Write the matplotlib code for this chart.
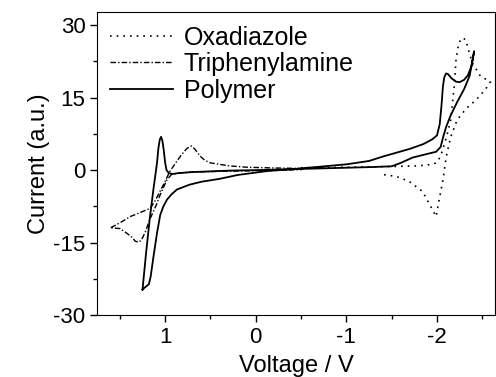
"""
Voltametria ciclica: Oxadiazole / Triphenylamine / Polymer.
Eje X invertido (potencial de 1.7 V a -2.6 V).
"""

import matplotlib
matplotlib.use("Agg")
import matplotlib.pyplot as plt
from matplotlib.ticker import MultipleLocator

plt.rcParams["font.family"] = ["Liberation Sans", "DejaVu Sans"]
plt.rcParams["axes.unicode_minus"] = False

# ─── Datos ───────────────────────────────────────────────────────────────────
# Polymer (linea continua): ida y vuelta, lazo cerrado
v_poly = [1.25, 1.21, 1.17, 1.13, 1.09, 1.075, 1.06, 1.045, 1.03, 1.015, 1.0,
          0.985, 0.96, 0.92, 0.85, 0.7, 0.5, 0.3, 0.0, -0.3, -0.6, -0.9, -1.1,
          -1.3, -1.5, -1.6, -1.73, -1.88, -1.99, -2.04, -2.07, -2.10, -2.15,
          -2.22, -2.30, -2.36, -2.41,
          -2.38, -2.34, -2.30, -2.25, -2.21, -2.16, -2.12, -2.10, -2.08, -2.065,
          -2.05, -2.03, -2.0, -1.95, -1.85, -1.7, -1.55, -1.4, -1.25, -1.0,
          -0.7, -0.4, -0.12, 0.2, 0.4, 0.6, 0.73, 0.87, 0.93, 0.98, 1.02,
          1.055, 1.09, 1.13, 1.16, 1.18, 1.22, 1.25]
i_poly = [-24.7, -17.0, -10.0, -4.0, 1.5, 4.5, 6.3, 6.9, 6.0, 4.0, 1.5,
          0.0, -0.6, -0.8, -0.6, -0.4, -0.25, -0.1, 0.0, 0.15, 0.3, 0.45, 0.55,
          0.65, 0.8, 1.5, 2.6, 3.3, 3.8, 4.8, 7.0, 8.9, 11.3,
          14.0, 16.8, 19.5, 24.6,
          21.5, 19.6, 18.7, 18.2, 18.3, 19.0, 19.9, 20.0, 19.2, 17.3,
          13.5, 9.5, 7.2, 6.4, 5.4, 4.4, 3.6, 2.8, 1.9, 1.2,
          0.7, 0.2, -0.2, -1.0, -1.8, -2.4, -3.0, -4.0, -5.0, -6.1, -7.5,
          -9.3, -13.0, -18.0, -22.0, -23.6, -24.2, -24.7]

# Triphenylamine (raya-punto)
v_tpa = [1.60, 1.49, 1.385, 1.28, 1.165, 1.11, 1.06, 1.0, 0.95, 0.88, 0.82,
         0.76, 0.71, 0.67, 0.615, 0.56, 0.5, 0.4, 0.3, 0.1, -0.2, -0.5,
         -0.5, -0.2, 0.1, 0.4, 0.7, 0.85, 0.93, 0.98, 1.02, 1.06, 1.10, 1.165,
         1.22, 1.26, 1.29, 1.33, 1.36, 1.42, 1.495, 1.60]
i_tpa = [-11.9, -10.8, -9.6, -8.8, -7.9, -6.3, -4.5, -2.3, -0.3, 1.6, 3.2,
         4.5, 5.0, 4.3, 2.9, 2.0, 1.5, 1.2, 0.9, 0.6, 0.45, 0.35,
         0.1, -0.05, -0.15, -0.25, -0.4, -0.6, -0.9, -2.0, -3.6, -5.3, -7.3, -10.0,
         -12.8, -14.4, -14.9, -14.7, -14.0, -13.1, -12.1, -11.9]

# Oxadiazole (punteada), barrido abierto entre -0.5 V y -2.6 V
v_oxd = [-0.5, -1.0, -1.5, -1.8, -1.95, -2.0, -2.04, -2.10, -2.15,
         -2.19, -2.21, -2.24, -2.28, -2.32, -2.34, -2.39, -2.48, -2.59,
         -2.53, -2.43, -2.32, -2.22, -2.15, -2.10, -2.07, -2.02, -1.99, -1.93,
         -1.84, -1.69, -1.55, -1.38]
i_oxd = [0.5, 0.6, 0.75, 0.9, 1.2, 1.6, 2.9, 6.5, 10.3,
         17.3, 22.9, 26.3, 27.4, 26.9, 25.3, 22.2, 19.4, 18.3,
         16.6, 14.5, 12.7, 10.3, 6.8, 2.6, -1.6, -6.5, -9.6, -7.5,
         -4.4, -2.3, -1.3, -0.85]

labels = ["Oxadiazole", "Triphenylamine", "Polymer"]
x_ticks = [1, 0, -1, -2]
y_ticks = [-30, -15, 0, 15, 30]

# ─── Figura ──────────────────────────────────────────────────────────────────
fig = plt.figure(figsize=(4.96, 3.77), dpi=100)
ax = fig.add_axes([0.196, 0.164, 0.802, 0.804])

ax.plot(v_oxd, i_oxd, color="black", lw=1.2, linestyle=(0, (1, 3)), label=labels[0])
ax.plot(v_tpa, i_tpa, color="black", lw=1.0, linestyle=(0, (4, 1.5, 1, 1.5)), label=labels[1])
ax.plot(v_poly, i_poly, color="black", lw=1.3, label=labels[2])

ax.set_xlim(1.75, -2.64)
ax.set_ylim(-30, 32.7)
ax.set_xticks(x_ticks)
ax.set_yticks(y_ticks)
ax.xaxis.set_minor_locator(MultipleLocator(0.5))
ax.yaxis.set_minor_locator(MultipleLocator(7.5))
ax.tick_params(which="both", direction="out", top=False, right=False, labelsize=16)
ax.tick_params(which="major", length=5, width=1)
ax.tick_params(which="minor", length=3, width=1)

ax.set_xlabel("Voltage / V", fontsize=17, labelpad=5)
ax.set_ylabel("Current (a.u.)", fontsize=17, labelpad=2)

ax.legend(loc="upper left", bbox_to_anchor=(0.033, 0.955), frameon=False,
          fontsize=18, handlelength=2.5, handletextpad=0.44,
          labelspacing=0.1, borderpad=0, borderaxespad=0)

fig.savefig("out.png", dpi=100)
